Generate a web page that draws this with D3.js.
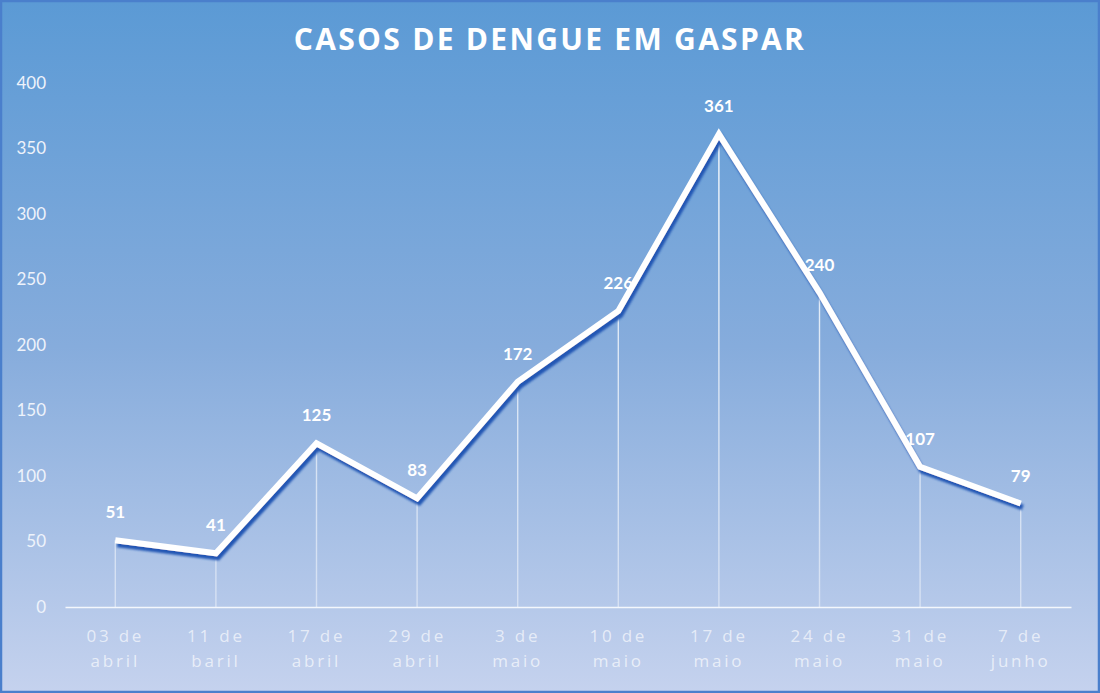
<!DOCTYPE html>
<html>
<head>
<meta charset="utf-8">
<script src="https://cdn.jsdelivr.net/npm/d3@7"></script>
<style>
  body { margin: 0; background: #fff; }
  svg { display: block; }
</style>
</head>
<body>
<div id="chart"></div>
<script>
// data
var dates = ["03 de|abril", "11 de|baril", "17 de|abril", "29 de|abril", "3 de|maio",
             "10 de|maio", "17 de|maio", "24 de|maio", "31 de|maio", "7 de|junho"];
var cases = [51, 41, 125, 83, 172, 226, 361, 240, 107, 79];
var yTicks = [0, 50, 100, 150, 200, 250, 300, 350, 400];

var width = 1100, height = 693;
var margin = {top: 83, right: 29, bottom: 86, left: 65};

var svg = d3.select("#chart").append("svg")
    .attr("width", width)
    .attr("height", height);

var defs = svg.append("defs");

var bg = defs.append("linearGradient")
    .attr("id", "bgGrad")
    .attr("x1", 0).attr("y1", 0).attr("x2", 0).attr("y2", 1);
bg.append("stop").attr("offset", "0%").attr("stop-color", "#5b9ad5");
bg.append("stop").attr("offset", "50%").attr("stop-color", "#86acdc");
bg.append("stop").attr("offset", "100%").attr("stop-color", "#c5d2ee");

// scales
var x = d3.scaleBand()
    .domain(dates)
    .range([margin.left, width - margin.right]);

var y = d3.scaleLinear()
    .domain([0, 400])
    .range([height - margin.bottom, margin.top]);

var cx = function(d) { return x(d) + x.bandwidth() / 2; };

var dropGrad = defs.append("linearGradient")
    .attr("id", "dropGrad")
    .attr("gradientUnits", "userSpaceOnUse")
    .attr("x1", 0).attr("y1", y(400)).attr("x2", 0).attr("y2", y(0));
dropGrad.append("stop").attr("offset", "0%").attr("stop-color", "#fff").attr("stop-opacity", 1);
dropGrad.append("stop").attr("offset", "100%").attr("stop-color", "#fff").attr("stop-opacity", 0.45);

var shadow = defs.append("filter")
    .attr("id", "lineShadow")
    .attr("x", "-10%").attr("y", "-10%").attr("width", "120%").attr("height", "120%");
shadow.append("feDropShadow")
    .attr("dx", 2).attr("dy", 4)
    .attr("stdDeviation", 1.2)
    .attr("flood-color", "#2456b4")
    .attr("flood-opacity", 1);

// background + frame
svg.append("rect")
    .attr("x", 1).attr("y", 1)
    .attr("width", width - 2).attr("height", height - 2)
    .attr("fill", "url(#bgGrad)")
    .attr("stroke", "#4a7fcc")
    .attr("stroke-width", 2.5);

// title
svg.append("text")
    .attr("x", 550)
    .attr("y", 50)
    .attr("text-anchor", "middle")
    .attr("font-family", "Open Sans, sans-serif")
    .attr("font-weight", "bold")
    .attr("font-size", 30)
    .attr("letter-spacing", 2.3)
    .attr("fill", "#fff")
    .text("CASOS DE DENGUE EM GASPAR");

// y axis (labels only)
var yAxis = svg.append("g")
    .attr("transform", "translate(" + 46 + ",0)")
    .call(d3.axisLeft(y).tickValues(yTicks).tickSize(0).tickPadding(0));
yAxis.select(".domain").remove();
yAxis.selectAll("text")
    .attr("font-family", "Lato, sans-serif")
    .attr("font-size", 17)
    .attr("fill", "#eef3fb")
    .attr("text-anchor", "end");

// drop lines
svg.append("g").selectAll("line")
    .data(dates)
    .join("line")
    .attr("x1", function(d) { return cx(d); })
    .attr("x2", function(d) { return cx(d); })
    .attr("y1", function(d, i) { return y(cases[i]); })
    .attr("y2", y(0))
    .attr("stroke", "url(#dropGrad)")
    .attr("stroke-width", 1.4);

// x axis
var xAxis = svg.append("g")
    .attr("transform", "translate(0," + y(0) + ")")
    .call(d3.axisBottom(x).tickSize(0).tickFormat(""));
xAxis.select(".domain")
    .attr("stroke", "#f4f7fc")
    .attr("stroke-width", 1.5);

var xLabels = svg.append("g").selectAll("text")
    .data(dates)
    .join("text")
    .attr("x", function(d) { return cx(d); })
    .attr("text-anchor", "middle")
    .attr("font-family", "Open Sans, sans-serif")
    .attr("font-size", 17)
    .attr("letter-spacing", 2.8)
    .attr("fill", "#fff")
    .attr("fill-opacity", 0.65);
xLabels.each(function(d) {
  var parts = d.split("|");
  var t = d3.select(this);
  t.append("tspan").attr("x", cx(d)).attr("y", 642).text(parts[0]);
  t.append("tspan").attr("x", cx(d)).attr("y", 667).text(parts[1]);
});

// line
var line = d3.line()
    .x(function(d, i) { return cx(dates[i]); })
    .y(function(d) { return y(d); });

svg.append("path")
    .datum(cases)
    .attr("d", line)
    .attr("fill", "none")
    .attr("stroke", "#fff")
    .attr("stroke-width", 6)
    .attr("stroke-linejoin", "miter")
    .attr("filter", "url(#lineShadow)");

// data labels
svg.append("g").selectAll("text")
    .data(cases)
    .join("text")
    .attr("x", function(d, i) { return cx(dates[i]); })
    .attr("y", function(d) { return y(d) - 22; })
    .attr("text-anchor", "middle")
    .attr("font-family", "Lato, sans-serif")
    .attr("font-weight", "bold")
    .attr("font-size", 17)
    .attr("fill", "#fff")
    .text(function(d) { return d; });
</script>
</body>
</html>
